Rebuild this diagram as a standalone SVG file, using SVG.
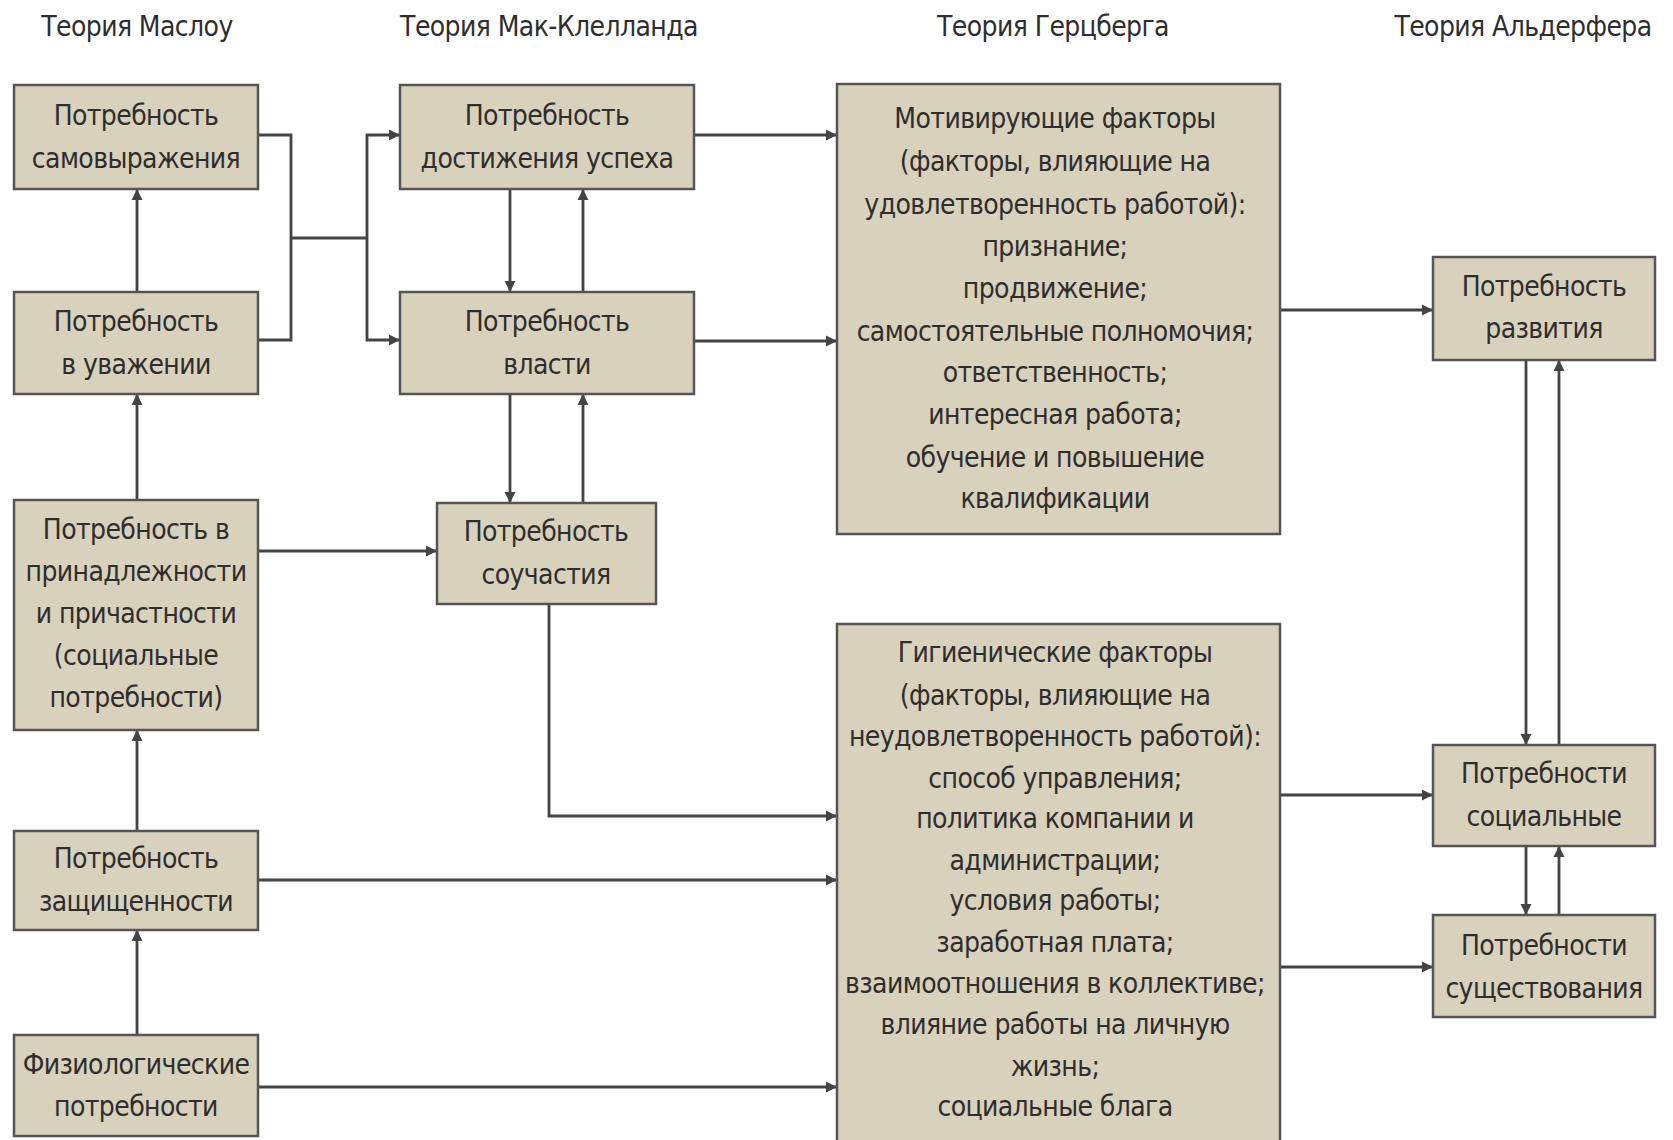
<svg xmlns="http://www.w3.org/2000/svg" width="1673" height="1140" viewBox="0 0 1673 1140">
<style>
.t{font-family:"Liberation Sans Narrow","DejaVu Sans Condensed","Liberation Sans",sans-serif;font-size:28px;letter-spacing:-0.6px;fill:#2e2e2e;text-anchor:middle;dominant-baseline:central}
.b{fill:#d8d1bb;stroke:#555;stroke-width:2.5}
.c{fill:none;stroke:#444;stroke-width:2.8;marker-end:url(#ah)}
.n{fill:none;stroke:#444;stroke-width:2.8}
</style>
<defs>
<marker id="ah" viewBox="0 0 10 10" refX="10" refY="5" markerWidth="4" markerHeight="4" orient="auto" markerUnits="strokeWidth">
<path d="M0,0 L10,5 L0,10 z" fill="#444"/>
</marker>
</defs>
<rect width="1673" height="1140" fill="#fff"/>
<g id="titles">
<text class="t" x="137" y="26">Теория Маслоу</text>
<text class="t" x="549" y="26">Теория Мак-Клелланда</text>
<text class="t" x="1053" y="26">Теория Герцберга</text>
<text class="t" x="1523" y="26">Теория Альдерфера</text>
</g>
<g id="connectors">
<path class="c" d="M137,292 V189"/>
<path class="c" d="M137,500 V394"/>
<path class="c" d="M137,831 V730"/>
<path class="c" d="M137,1035 V930"/>
<path class="n" d="M258,135 H291 V340 H258"/>
<path class="n" d="M291,238 H367"/>
<path class="c" d="M367,238 V135 H400"/>
<path class="c" d="M367,238 V340 H400"/>
<path class="c" d="M694,135 H837"/>
<path class="c" d="M694,341 H837"/>
<path class="c" d="M510,189 V292"/>
<path class="c" d="M583,292 V189"/>
<path class="c" d="M510,394 V503"/>
<path class="c" d="M583,503 V394"/>
<path class="c" d="M258,551 H437"/>
<path class="c" d="M549,604 V816 H837"/>
<path class="c" d="M258,880 H837"/>
<path class="c" d="M258,1087 H837"/>
<path class="c" d="M1280,310 H1433"/>
<path class="c" d="M1280,795 H1433"/>
<path class="c" d="M1280,967 H1433"/>
<path class="c" d="M1526,360 V745"/>
<path class="c" d="M1559,745 V360"/>
<path class="c" d="M1526,846 V915"/>
<path class="c" d="M1559,915 V846"/>
</g>
<g id="m1"><rect class="b" x="14" y="85" width="244" height="104"/>
<text class="t" x="136" y="115">Потребность</text><text class="t" x="136" y="158">самовыражения</text></g>
<g id="m2"><rect class="b" x="14" y="292" width="244" height="102"/>
<text class="t" x="136" y="321">Потребность</text><text class="t" x="136" y="364">в уважении</text></g>
<g id="m3"><rect class="b" x="14" y="500" width="244" height="230"/>
<text class="t" x="136" y="529">Потребность в</text><text class="t" x="136" y="571">принадлежности</text><text class="t" x="136" y="613">и причастности</text><text class="t" x="136" y="655">(социальные</text><text class="t" x="136" y="697">потребности)</text></g>
<g id="m4"><rect class="b" x="14" y="831" width="244" height="99"/>
<text class="t" x="136" y="858">Потребность</text><text class="t" x="136" y="901">защищенности</text></g>
<g id="m5"><rect class="b" x="14" y="1035" width="244" height="101"/>
<text class="t" x="136" y="1064">Физиологические</text><text class="t" x="136" y="1106">потребности</text></g>
<g id="c1"><rect class="b" x="400" y="85" width="294" height="104"/>
<text class="t" x="547" y="115">Потребность</text><text class="t" x="547" y="158">достижения успеха</text></g>
<g id="c2"><rect class="b" x="400" y="292" width="294" height="102"/>
<text class="t" x="547" y="321">Потребность</text><text class="t" x="547" y="364">власти</text></g>
<g id="c3"><rect class="b" x="437" y="503" width="219" height="101"/>
<text class="t" x="546" y="531">Потребность</text><text class="t" x="546" y="574">соучастия</text></g>
<g id="h1"><rect class="b" x="837" y="84" width="443" height="450"/>
<text class="t" x="1055" y="118">Мотивирующие факторы</text>
<text class="t" x="1055" y="161">(факторы, влияющие на</text>
<text class="t" x="1055" y="204">удовлетворенность работой):</text>
<text class="t" x="1055" y="246">признание;</text>
<text class="t" x="1055" y="288">продвижение;</text>
<text class="t" x="1055" y="331">самостоятельные полномочия;</text>
<text class="t" x="1055" y="372">ответственность;</text>
<text class="t" x="1055" y="414">интересная работа;</text>
<text class="t" x="1055" y="457">обучение и повышение</text>
<text class="t" x="1055" y="498">квалификации</text></g>
<g id="h2"><rect class="b" x="837" y="624" width="443" height="530"/>
<text class="t" x="1055" y="652">Гигиенические факторы</text>
<text class="t" x="1055" y="695">(факторы, влияющие на</text>
<text class="t" x="1055" y="736">неудовлетворенность работой):</text>
<text class="t" x="1055" y="778">способ управления;</text>
<text class="t" x="1055" y="818">политика компании и</text>
<text class="t" x="1055" y="860">администрации;</text>
<text class="t" x="1055" y="900">условия работы;</text>
<text class="t" x="1055" y="942">заработная плата;</text>
<text class="t" x="1055" y="983">взаимоотношения в коллективе;</text>
<text class="t" x="1055" y="1024">влияние работы на личную</text>
<text class="t" x="1055" y="1066">жизнь;</text>
<text class="t" x="1055" y="1106">социальные блага</text></g>
<g id="a1"><rect class="b" x="1433" y="257" width="222" height="103"/>
<text class="t" x="1544" y="286">Потребность</text><text class="t" x="1544" y="328">развития</text></g>
<g id="a2"><rect class="b" x="1433" y="745" width="222" height="101"/>
<text class="t" x="1544" y="773">Потребности</text><text class="t" x="1544" y="816">социальные</text></g>
<g id="a3"><rect class="b" x="1433" y="915" width="222" height="102"/>
<text class="t" x="1544" y="945">Потребности</text><text class="t" x="1544" y="988">существования</text></g>
</svg>
